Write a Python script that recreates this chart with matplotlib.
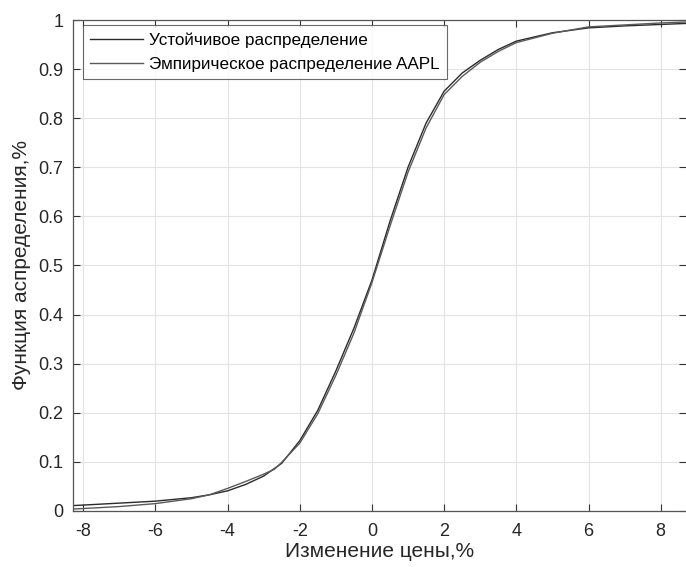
import numpy as np
import matplotlib
matplotlib.use('Agg')
import matplotlib.pyplot as plt

plt.rcParams['font.family'] = ['Liberation Sans', 'DejaVu Sans']
plt.rcParams['axes.unicode_minus'] = False

# price change, % (x) and CDF values
x_stable = [-8.28, -8, -7, -6, -5, -4.5, -4, -3.5, -3, -2.5, -2, -1.5, -1, -0.5,
            0, 0.5, 1, 1.5, 2, 2.5, 3, 3.5, 4, 5, 6, 7, 8, 8.7]
f_stable = [0.011, 0.012, 0.016, 0.020, 0.027, 0.033, 0.041, 0.054, 0.071, 0.097,
            0.143, 0.205, 0.285, 0.372, 0.47, 0.59, 0.70, 0.79, 0.855, 0.892,
            0.918, 0.940, 0.957, 0.974, 0.984, 0.988, 0.991, 0.993]

x_emp = [-8.28, -8, -7, -6, -5, -4.5, -4, -3.5, -3, -2.7, -2.5, -2, -1.5, -1, -0.5,
         0, 0.5, 1, 1.5, 2, 2.5, 3, 3.5, 4, 5, 6, 7, 8, 8.7]
f_emp = [0.004, 0.005, 0.009, 0.015, 0.025, 0.033, 0.046, 0.060, 0.075, 0.085, 0.099,
         0.138, 0.198, 0.276, 0.362, 0.465, 0.58, 0.69, 0.78, 0.848, 0.885,
         0.914, 0.936, 0.954, 0.973, 0.986, 0.990, 0.994, 0.996]

xticks = [-8, -6, -4, -2, 0, 2, 4, 6, 8]
yticks = [0, 0.1, 0.2, 0.3, 0.4, 0.5, 0.6, 0.7, 0.8, 0.9, 1]
yticklabels = ['0', '0.1', '0.2', '0.3', '0.4', '0.5', '0.6', '0.7', '0.8', '0.9', '1']

fig = plt.figure(figsize=(6.86, 5.67), dpi=100)
ax = fig.add_axes([0.1064, 0.0988, 0.8936, 0.8659])

ax.plot(x_stable, f_stable, color='#2a2a2a', lw=1.0, label='Устойчивое распределение')
ax.plot(x_emp, f_emp, color='#5a5a5a', lw=1.0, label='Эмпирическое распределение AAPL')

ax.set_xlim(-8.28, 8.7)
ax.set_ylim(0, 1)
ax.set_xticks(xticks)
ax.set_yticks(yticks)
ax.set_yticklabels(yticklabels)
ax.grid(True, color='#e3e3e3', lw=0.8)
ax.set_axisbelow(True)
ax.tick_params(direction='in', top=True, right=True, length=5, width=0.8,
               color='#333333', labelsize=13, labelcolor='#262626')
ax.tick_params(axis='x', pad=9)
ax.tick_params(axis='y', pad=7)
for s in ax.spines.values():
    s.set_color('#555555')
    s.set_linewidth(0.9)
ax.spines['right'].set_visible(False)

ax.set_xlabel('Изменение цены,%', fontsize=15, color='#262626', labelpad=1)
ax.set_ylabel('Функция аспределения,%', fontsize=15, color='#262626', labelpad=5)

leg = ax.legend(loc='upper left', bbox_to_anchor=(0.016, 0.99), fontsize=12.3,
                frameon=True, fancybox=False, edgecolor='#444444', borderpad=0.45,
                labelspacing=0.5, handlelength=3.05, handletextpad=0.35, borderaxespad=0)
leg.get_frame().set_linewidth(0.8)

fig.savefig('out.png', dpi=100)
